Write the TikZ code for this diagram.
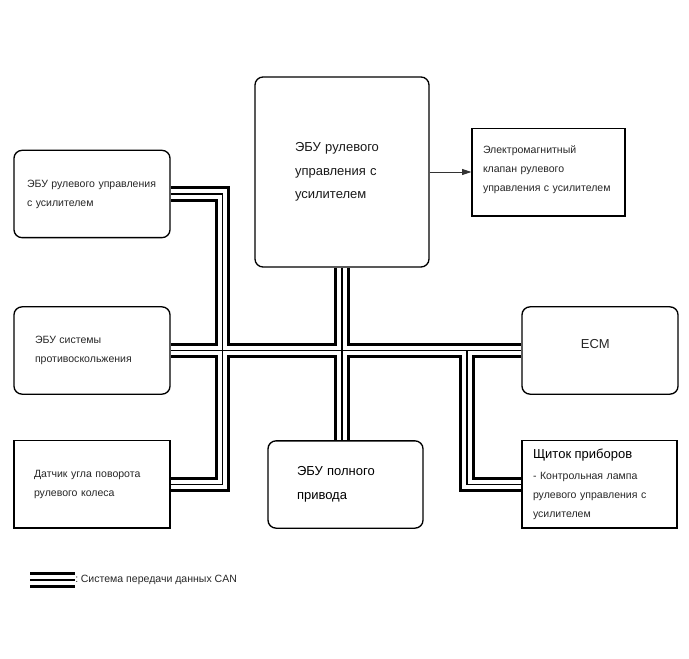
\documentclass[tikz,border=0pt]{standalone}
\usepackage{fontspec}
\setmainfont{Liberation Sans}
\usetikzlibrary{positioning,arrows.meta,backgrounds}

\newcommand\txtsmall{\fontsize{7.9}{14.25}\selectfont}
\newcommand\txtbig{\fontsize{9.75}{17.6}\selectfont}

\begin{document}
\begin{tikzpicture}[x=0.75pt,y=-0.75pt,
    box/.style={draw,line width=1pt,minimum width=117pt,minimum height=65.5pt,
        inner xsep=0pt,align=left,font=\txtsmall,text=black!85},
    rbox/.style={box,rounded corners=6pt},
    arr/.style={-{Triangle[length=7pt,width=4.5pt]},line width=0.6pt,black!80}]
    \useasboundingbox (0,0) rectangle (689,659);

    % Control units
    \node[rbox,text width=97.5pt] (eps) at (92,194)
        {ЭБУ рулевого управления\\с усилителем};
    \node[rbox,minimum width=130.5pt,minimum height=142.5pt,text width=70.5pt,
        font=\txtbig,text=black!90] (epsecu) at (342,172)
        {ЭБУ рулевого\\управления с\\усилителем};
    \node[box,minimum width=114.75pt,text width=98.25pt] (valve) at (548.5,172.3)
        {\raisebox{2pt}[\height][\depth]{\parbox[t]{98.25pt}{Электромагнитный\\клапан рулевого\\управления с усилителем}}};
    \node[rbox,text width=85.5pt] (abs) at (92,350.5)
        {ЭБУ системы\\противоскольжения};
    \node[rbox,align=center,font=\txtbig] (ecm) at (600,350.5)
        {\raisebox{5pt}[\height][\depth]{ECM}\kern7pt};
    \node[box,text width=87pt] (sensor) at (92,484.3)
        {Датчик угла поворота\\рулевого колеса};
    \node[rbox,minimum width=116.25pt,text width=72.75pt,font=\txtbig,text=black]
        (awd) at (345.5,484.5) {ЭБУ полного\\привода};
    \node[box,minimum width=116.25pt,text width=99.75pt] (meter) at (599.5,484.3)
        {{\txtbig\color{black}Щиток приборов}\\[2pt]- Контрольная лампа\\рулевого управления с\\усилителем};

    \draw[arr] (epsecu.east) -- (epsecu.east -| valve.west);

    % CAN bus
    \coordinate (lbus) at (222.5,484.3);
    \coordinate (rj) at (467,350.5);
    \coordinate (lga) at (30,580);
    \coordinate (lgb) at (75,580);
    \begin{scope}[on background layer]
        \foreach \w/\c in {11.7pt/black,6.9pt/white,0.8pt/black} {
            \draw[line width=\w,\c,line join=miter] (eps.east) -| (lbus) -- (sensor.east);
            \draw[line width=\w,\c] (abs.east) -- (ecm.west);
            \draw[line width=\w,\c] (epsecu.south) -- (epsecu.south |- awd.north);
            \draw[line width=\w,\c,line join=miter] (rj) |- (meter.west);
            \draw[line width=\w,\c] (lga) -- (lgb);
        }
    \end{scope}

    % Legend
    \node[anchor=west,inner sep=0pt,font=\txtsmall,text=black!85] (lgtxt) at (lgb)
        {:\kern2pt Система передачи данных CAN};
\end{tikzpicture}
\end{document}
